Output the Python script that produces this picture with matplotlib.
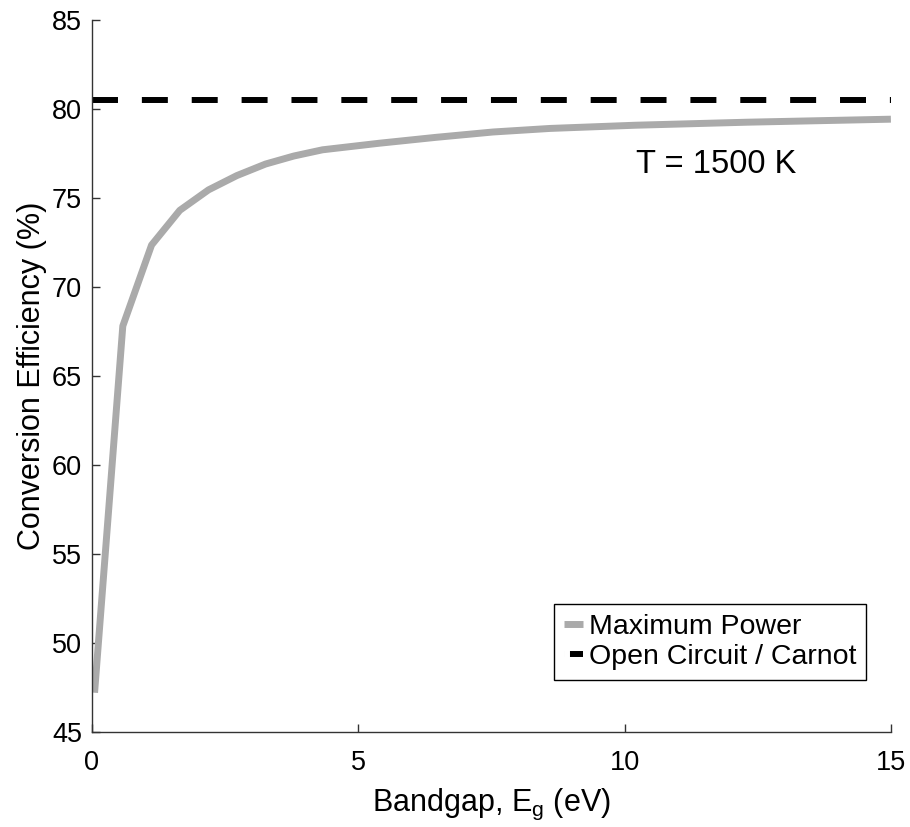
import matplotlib
matplotlib.use("Agg")
import matplotlib.pyplot as plt
from matplotlib.lines import Line2D

plt.rcParams['font.family'] = ['Liberation Sans', 'DejaVu Sans']

# Maximum power efficiency vs bandgap
bandgap = [0.05, 0.58, 1.12, 1.65, 2.19, 2.72, 3.26, 3.79, 4.33,
           5.4, 6.46, 7.53, 8.6, 10.2, 12.3, 15.0]
max_power = [47.2, 67.8, 72.35, 74.3, 75.45, 76.25, 76.9, 77.35, 77.7,
             78.07, 78.4, 78.7, 78.9, 79.08, 79.25, 79.42]

# Open circuit / Carnot limit
carnot_x = [0, 15]
carnot_y = [80.5, 80.5]

x_ticks = [0, 5, 10, 15]
y_ticks = [45, 50, 55, 60, 65, 70, 75, 80, 85]

gray = '#aaaaaa'

fig = plt.figure(figsize=(9.1, 8.27), dpi=100)
ax = fig.add_axes([0.101, 0.115, 0.878, 0.861])

ax.plot(bandgap, max_power, color=gray, lw=5.0, solid_capstyle='butt')
ax.plot(carnot_x, carnot_y, color='black', lw=4.3,
        linestyle=(0, (4.35, 4.0)), dash_capstyle='butt')

ax.set_xlim(0, 15)
ax.set_ylim(45, 85)
ax.set_xticks(x_ticks)
ax.set_yticks(y_ticks)

for side in ['top', 'right']:
    ax.spines[side].set_visible(False)
for side in ['left', 'bottom']:
    ax.spines[side].set_linewidth(1.0)
    ax.spines[side].set_color('#333333')

ax.tick_params(axis='both', direction='in', length=6, width=1.0,
               labelsize=19.5, color='#333333')
ax.tick_params(axis='y', pad=7)
ax.tick_params(axis='x', pad=13)

ax.set_xlabel('Bandgap, E$_\\mathregular{g}$ (eV)', fontsize=22, labelpad=8)
ax.set_ylabel('Conversion Efficiency (%)', fontsize=22, labelpad=4)

ax.text(10.22, 76.4, 'T = 1500 K', fontsize=23.5, ha='left', va='baseline')

# proxy handles so the legend samples look like the original
h1 = Line2D([], [], color=gray, lw=5.0, solid_capstyle='butt')
h2 = Line2D([], [], color='black', lw=4.3,
            linestyle=(0, (0.001, 1.0, 3.0, 10)), dash_capstyle='butt')
leg = ax.legend([h1, h2], ['Maximum Power', 'Open Circuit / Carnot'],
                loc='lower right', bbox_to_anchor=(0.969, 0.073),
                borderaxespad=0, fontsize=20.5, handlelength=0.65,
                handletextpad=0.2, labelspacing=0.15, borderpad=0.35,
                fancybox=False, framealpha=1, edgecolor='black')
leg.get_frame().set_linewidth(1.0)

fig.savefig('out.png', dpi=100)
